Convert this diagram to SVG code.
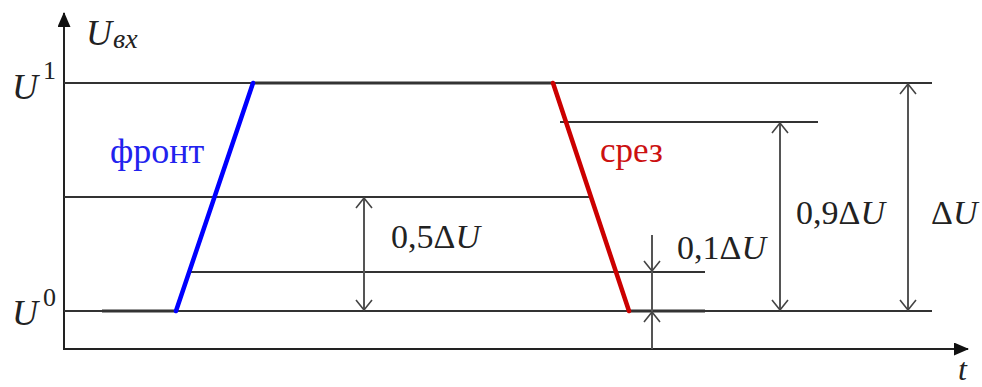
<svg xmlns="http://www.w3.org/2000/svg" width="982" height="387" viewBox="0 0 982 387">
<style>
.ax{stroke:#222;stroke-width:2;fill:none}
.ln{stroke:#333;stroke-width:2;fill:none}
.sig{stroke:#333;stroke-width:3;fill:none}
.dim{stroke:#555;stroke-width:2;fill:none}
.lbl{fill:#222}
.it{font-style:italic}
.num{font-size:34px}
</style>
<defs>
<marker id="open" viewBox="0 0 12 18" refX="11" refY="9" markerWidth="12" markerHeight="18" markerUnits="userSpaceOnUse" orient="auto-start-reverse">
<path d="M1,1 L11,9 L1,17" stroke="#444" stroke-width="1.6" fill="none"/>
</marker>
<marker id="filled" viewBox="0 0 15 13" refX="14" refY="6.5" markerWidth="15" markerHeight="13" markerUnits="userSpaceOnUse" orient="auto">
<path d="M0,0 L15,6.5 L0,13 Z" fill="#111"/>
</marker>
</defs>
<g id="axes">
<line class="ax" x1="64" y1="350" x2="64" y2="13" marker-end="url(#filled)"/>
<line class="ax" x1="63" y1="349" x2="968" y2="349" marker-end="url(#filled)"/>
</g>
<g id="levels">
<line class="ln" x1="64" y1="83" x2="932" y2="83"/>
<line class="ln" x1="64" y1="311" x2="932" y2="311"/>
<line class="ln" x1="560" y1="122" x2="818" y2="122"/>
<line class="ln" x1="64" y1="197" x2="590" y2="197"/>
<line class="ln" x1="190" y1="272" x2="705" y2="272"/>
</g>
<g id="signal">
<line class="sig" x1="102" y1="311" x2="176" y2="311"/>
<line class="sig" x1="253" y1="83" x2="553" y2="83"/>
<line class="sig" x1="629" y1="311" x2="705" y2="311"/>
<line x1="176" y1="311" x2="253" y2="83" stroke="#0000ff" stroke-width="4.5" stroke-linecap="round"/>
<line x1="553" y1="83" x2="629" y2="311" stroke="#cc0000" stroke-width="4.5" stroke-linecap="round"/>
</g>
<g id="connectors">
<line class="dim" x1="364" y1="198" x2="364" y2="310" marker-start="url(#open)" marker-end="url(#open)"/>
<line class="dim" x1="780" y1="123" x2="780" y2="310" marker-start="url(#open)" marker-end="url(#open)"/>
<line class="dim" x1="908" y1="84" x2="908" y2="310" marker-start="url(#open)" marker-end="url(#open)"/>
<line class="dim" x1="652" y1="235" x2="652" y2="349"/>
<line class="dim" x1="652" y1="255" x2="652" y2="271" marker-end="url(#open)"/>
<line class="dim" x1="652" y1="330" x2="652" y2="312" marker-end="url(#open)"/>
</g>
<g id="labels" font-family="'Liberation Serif', 'DejaVu Serif', 'Times New Roman', serif" class="lbl">
<text class="it" x="86" y="45" font-size="36">U</text>
<text class="it" x="113" y="48" font-size="28">вх</text>
<text class="it" x="12" y="99" font-size="36">U</text>
<text x="43" y="79" font-size="26">1</text>
<text class="it" x="12" y="325" font-size="36">U</text>
<text x="43" y="306" font-size="26">0</text>
<text x="110" y="163" font-size="36" fill="#2222ee">фронт</text>
<text x="600" y="162" font-size="35" fill="#cc1111">срез</text>
<text class="num" x="391" y="248">0,5Δ<tspan class="it">U</tspan></text>
<text class="num" x="677" y="259">0,1Δ<tspan class="it">U</tspan></text>
<text class="num" x="796" y="224">0,9Δ<tspan class="it">U</tspan></text>
<text class="num" x="931" y="224">Δ<tspan class="it">U</tspan></text>
<text class="it" x="958" y="380" font-size="32">t</text>
</g>
</svg>
